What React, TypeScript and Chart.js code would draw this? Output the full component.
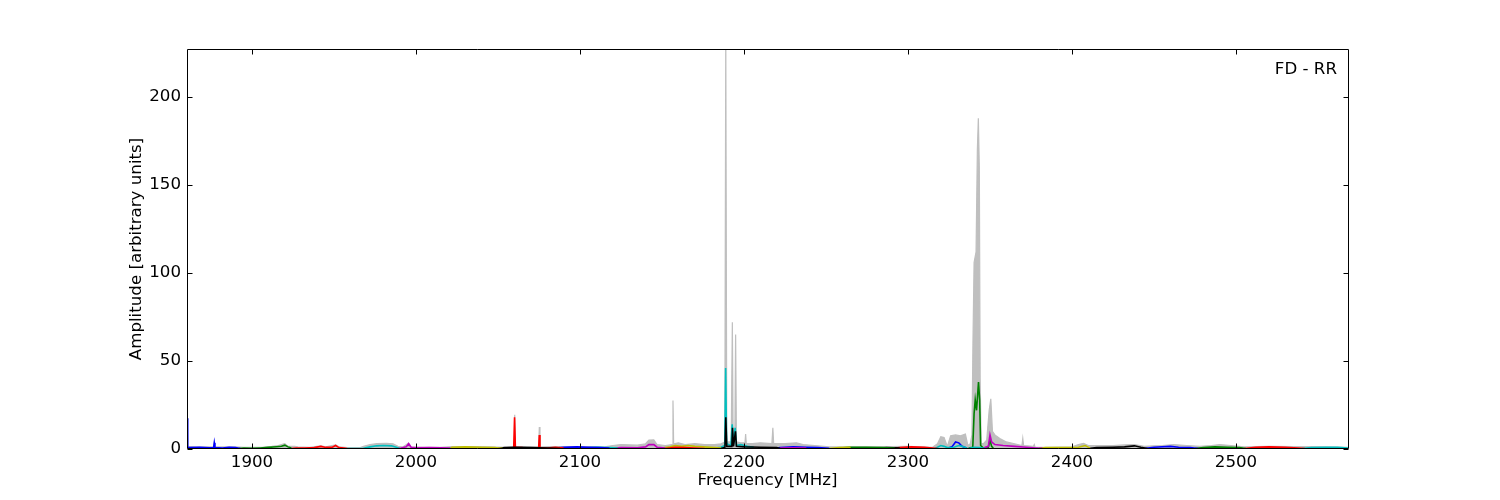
import React, { useEffect, useRef } from "react";
import { Chart, registerables } from "chart.js";

Chart.register(...registerables);

type Pt = [number, number];

const xTickValues = [1900, 2000, 2100, 2200, 2300, 2400, 2500];
const yTickValues = [0, 50, 100, 150, 200];
const xRange = [1860.37, 2568.3];
const yRange = [0, 227.3];
const cornerLabel = "FD - RR";
const xTitle = "Frequency [MHz]";
const yTitle = "Amplitude [arbitrary units]";

const grayEnvelope: Pt[] = [
  [1860.4, 18], [1861, 1.5], [1866, 1.2], [1872, 1.2], [1876.5, 1.2], [1877, 3.8], [1877.5, 1.2], [1884, 1.2], [1890, 1.2],
  [1895, 1], [1900, 1], [1906, 1], [1912, 1.5], [1916, 2], [1919, 2.8], [1920, 3], [1922, 1.5], [1926, 1.5], [1928, 1.2],
  [1935, 1], [1942, 1.8], [1945, 1.2], [1951, 2.3], [1953, 1.2], [1958, 0.8], [1966, 0.8], [1968, 1.5], [1972, 2.5],
  [1976, 3], [1982, 3.2], [1986, 3], [1989, 1.5], [1992, 1.2], [1995.5, 3.3], [1997, 1.2], [2005, 1], [2015, 1],
  [2022, 1.3], [2030, 1.4], [2045, 1.2], [2055, 1], [2059.8, 1.2], [2060.2, 19.5], [2060.6, 1.5], [2068, 1.2],
  [2074.8, 1.2], [2075.2, 12.5], [2075.6, 1.2], [2085, 1.3], [2100, 1.4], [2115, 1.2], [2120, 2], [2125, 2.5],
  [2135, 2.2], [2140, 3], [2142, 5], [2145, 5.2], [2147, 2.5], [2152, 2], [2156.3, 2.5], [2156.7, 27.5], [2157.1, 3],
  [2160, 3.5], [2164, 2.5], [2170, 3], [2176, 2.5], [2182, 2.5], [2186, 3], [2188.3, 4], [2188.9, 235], [2189.5, 4],
  [2192.2, 4], [2192.9, 72], [2193.4, 4], [2194.4, 4], [2194.9, 65], [2195.4, 4], [2198, 3.5], [2200.6, 3.5],
  [2201, 8.5], [2201.4, 3], [2205, 3], [2210, 3.5], [2217, 3], [2217.6, 12], [2218.1, 3], [2225, 3], [2232, 3.5],
  [2236, 2.5], [2245, 1.8], [2252, 1.2], [2265, 1.2], [2280, 1.2], [2300, 1.5], [2315, 1], [2318, 3], [2320, 7],
  [2322, 6.5], [2324, 1.5], [2326, 7.5], [2329, 8], [2332, 7.5], [2335, 8.5], [2336.5, 2], [2338, 3], [2339, 8],
  [2339.6, 60], [2340.3, 106], [2341.5, 112], [2342.3, 170], [2342.9, 188], [2343.5, 160], [2344, 40], [2344.6, 3],
  [2346, 3], [2348, 5], [2349.5, 22], [2350.5, 28.5], [2351.5, 10], [2353, 8], [2356, 6], [2360, 4], [2365, 3],
  [2369.5, 2], [2370, 6], [2370.5, 2], [2376.5, 1.5], [2377, 2.5], [2377.5, 1], [2385, 1], [2400, 1.2], [2404, 2.5],
  [2407, 3.2], [2410, 2], [2415, 2], [2425, 2], [2432, 2.3], [2438, 2.5], [2444, 1.5], [2450, 1.8], [2455, 2],
  [2462, 2.5], [2470, 2], [2478, 1.5], [2485, 2], [2490, 2.5], [2497, 2], [2505, 1.2], [2520, 1.5], [2535, 1.3],
  [2545, 1.3], [2555, 1.2], [2568.3, 1],
];

const blue1: Pt[] = [[1860.4, 17.5], [1860.8, 1], [1862, 0.8], [1868, 1], [1874, 0.7], [1876.6, 0.8], [1877, 3.5], [1877.4, 0.8], [1882, 0.6], [1886, 1], [1890, 0.8], [1893, 0.3]];
const green1: Pt[] = [[1892, 0.3], [1895, 0.5], [1900, 0.4], [1905, 0.6], [1910, 0.9], [1915, 1.3], [1918, 1.6], [1920, 2.2], [1922, 1.2], [1924, 0.5]];
const red1: Pt[] = [[1924, 0.3], [1927, 0.6], [1932, 0.5], [1938, 0.8], [1942, 1.5], [1945, 0.9], [1949, 1], [1951, 2], [1953, 0.8], [1956, 0.5], [1958, 0.2]];
const cyan1: Pt[] = [[1958, 0.2], [1963, 0.3], [1968, 0.4], [1972, 1.2], [1976, 1.8], [1980, 2], [1985, 1.8], [1988, 1], [1990, 0.3]];
const magenta1: Pt[] = [[1988, 0.3], [1991, 0.6], [1994, 1.2], [1995.5, 3], [1997, 1], [2000, 0.7], [2008, 0.8], [2015, 0.7], [2021, 0.5]];
const yellow1: Pt[] = [[2021, 0.5], [2022, 1], [2030, 1.2], [2040, 1], [2048, 0.8], [2053, 0.3]];
const black1: Pt[] = [[2050, 0.2], [2054, 0.8], [2060, 1], [2070, 0.8], [2080, 0.5], [2088, 0.3]];
const red2: Pt[] = [[2059.6, 1], [2060.1, 18], [2060.6, 1], [2065, 0.8], [2070, 0.7], [2074.8, 0.8], [2075.2, 8], [2075.6, 0.8], [2080, 0.6], [2085, 0.9], [2090, 0.6]];
const blue2: Pt[] = [[2085, 0.6], [2090, 1], [2098, 1.2], [2105, 1], [2112, 0.8], [2118, 0.5]];
const cyan2: Pt[] = [[2095, 0.3], [2100, 0.6], [2110, 1], [2118, 0.8], [2123, 0.5]];
const magenta2: Pt[] = [[2120, 0.4], [2125, 0.8], [2135, 0.7], [2140, 1.2], [2142, 2.5], [2145, 2.5], [2147, 1], [2152, 0.5]];
const yellow2: Pt[] = [[2150, 0.5], [2155, 1.2], [2158, 2], [2162, 1.5], [2166, 2], [2170, 1.5], [2175, 1.2], [2182, 0.8], [2186, 0.5]];
const red3: Pt[] = [[2152, 0.3], [2158, 1], [2164, 0.8], [2170, 0.6], [2176, 0.3]];
const cyan3: Pt[] = [[2182, 0.5], [2186, 1], [2188.3, 2], [2188.8, 46], [2189.4, 3], [2192, 2], [2192.8, 14], [2193.6, 3], [2194.6, 12], [2195.4, 2], [2198, 2.5], [2202, 1.5], [2206, 1]];
const black2: Pt[] = [[2186, 0.3], [2188.4, 1], [2188.9, 18], [2189.5, 1.5], [2192.6, 1.5], [2193, 12], [2193.6, 1.5], [2194.8, 10], [2195.4, 1.5], [2200, 1.2], [2210, 1], [2220, 0.8], [2222, 0.3]];
const blue3: Pt[] = [[2218, 0.3], [2222, 0.8], [2230, 1.2], [2238, 1], [2245, 0.8], [2252, 0.4]];
const magenta3: Pt[] = [[2222, 0.5], [2230, 0.7], [2238, 0.5]];
const yellow3: Pt[] = [[2252, 0.3], [2258, 0.8], [2265, 1]];
const green2: Pt[] = [[2258, 0.5], [2265, 0.9], [2275, 1], [2285, 0.8], [2292, 0.4]];
const black3: Pt[] = [[2280, 0.3], [2287, 0.8], [2295, 0.5]];
const red4: Pt[] = [[2290, 0.3], [2295, 0.8], [2302, 1.2], [2310, 0.9], [2318, 0.3]];
const cyan4: Pt[] = [[2316, 0.2], [2318, 1], [2320, 2], [2322, 1.5], [2324, 0.8], [2328, 1], [2331, 2], [2333, 1.5], [2336, 0.5]];
const blue4: Pt[] = [[2324, 0.3], [2327, 1.5], [2329, 4], [2331, 3.5], [2333, 1.5], [2336, 0.4]];
const cyan5: Pt[] = [[2337, 0.3], [2340, 1], [2344, 0.8], [2347, 0.2]];
const green3: Pt[] = [[2337, 0.5], [2339.5, 1], [2340.3, 20], [2341, 28], [2341.8, 22], [2343, 38], [2343.7, 28], [2344.3, 2], [2346, 0.5], [2349, 1], [2350, 5], [2351, 1.5], [2352, 0.5]];
const magenta4: Pt[] = [[2346, 0.5], [2349, 1.5], [2350, 8], [2351, 4], [2353, 2.5], [2358, 2], [2365, 1.5], [2372, 1], [2378, 0.6], [2382, 0.4]];
const yellow4: Pt[] = [[2380, 0.4], [2384, 0.8], [2395, 0.8], [2404, 1], [2408, 2], [2411, 0.5]];
const black4: Pt[] = [[2410, 0.3], [2415, 0.8], [2425, 1], [2432, 1.2], [2438, 1.8], [2442, 1], [2446, 0.3]];
const blue5: Pt[] = [[2444, 0.3], [2450, 1], [2460, 1.5], [2465, 1], [2472, 0.8], [2477, 0.3]];
const green4: Pt[] = [[2475, 0.3], [2480, 0.8], [2487, 1.2], [2495, 1], [2502, 0.8], [2506, 0.3]];
const red5: Pt[] = [[2505, 0.2], [2512, 1], [2520, 1.2], [2530, 1], [2538, 0.6], [2542, 0.2]];
const cyan6: Pt[] = [[2540, 0.2], [2546, 0.8], [2555, 1], [2562, 0.9], [2568.3, 0.6]];

const COLORS: Record<string, string> = {
  b: "#0000ff",
  g: "#008000",
  r: "#ff0000",
  c: "#00bfbf",
  m: "#bf00bf",
  y: "#bfbf00",
  k: "#000000",
};

const bandSeries: [Pt[], string][] = [
  [blue1, "b"], [green1, "g"], [red1, "r"], [cyan1, "c"], [magenta1, "m"], [yellow1, "y"], [black1, "k"],
  [red2, "r"], [blue2, "b"], [cyan2, "c"], [magenta2, "m"], [red3, "r"], [yellow2, "y"], [black2, "k"], [cyan3, "c"],
  [magenta3, "m"], [blue3, "b"], [yellow3, "y"], [green2, "g"], [black3, "k"], [red4, "r"], [cyan4, "c"], [blue4, "b"],
  [cyan5, "c"], [magenta4, "m"], [green3, "g"], [yellow4, "y"], [black4, "k"], [blue5, "b"], [green4, "g"],
  [red5, "r"], [cyan6, "c"],
];

const FONT = "DejaVu Sans";
const FS = 16.67;

const framePlugin = {
  id: "frame",
  afterDraw(chart: any) {
    const { ctx, chartArea } = chart;
    const { left, right, top, bottom } = chartArea;
    const xs = chart.scales.x;
    const ys = chart.scales.y;
    ctx.save();
    ctx.strokeStyle = "#000";
    ctx.lineWidth = 1;
    ctx.beginPath();
    const L = Math.round(left) + 0.5;
    const R = Math.round(right) + 0.5;
    const T = Math.round(top) + 0.5;
    const B = Math.round(bottom) - 0.5;
    ctx.rect(L, T, R - L, B - T);
    const tl = 5;
    for (const v of xTickValues) {
      const px = Math.round(xs.getPixelForValue(v)) + 0.5;
      ctx.moveTo(px, B);
      ctx.lineTo(px, B - tl);
      ctx.moveTo(px, T);
      ctx.lineTo(px, T + tl);
    }
    for (const v of yTickValues) {
      const py = Math.round(ys.getPixelForValue(v)) + 0.5;
      ctx.moveTo(L, py);
      ctx.lineTo(L + tl, py);
      ctx.moveTo(R, py);
      ctx.lineTo(R - tl, py);
    }
    ctx.stroke();
    ctx.fillStyle = "#000";
    ctx.font = `${FS}px "${FONT}"`;
    ctx.textAlign = "right";
    ctx.textBaseline = "middle";
    ctx.fillText(cornerLabel, right - 11, top + 21);
    ctx.restore();
  },
};

export default function App() {
  const ref = useRef<HTMLCanvasElement | null>(null);
  useEffect(() => {
    if (!ref.current) return;
    const datasets: any[] = bandSeries.map(([data, c], i) => ({
      data,
      borderColor: COLORS[c],
      borderWidth: 1.6,
      pointRadius: 0,
      fill: false,
      tension: 0,
      order: i,
    }));
    datasets.push({
      data: grayEnvelope,
      borderColor: "#bfbfbf",
      backgroundColor: "#bfbfbf",
      borderWidth: 1.2,
      pointRadius: 0,
      fill: "origin",
      tension: 0,
      order: 1000,
    });
    const chart = new Chart(ref.current, {
      type: "line",
      data: { datasets },
      plugins: [framePlugin],
      options: {
        animation: false,
        responsive: false,
        maintainAspectRatio: false,
        events: [],
        layout: { padding: { left: 0, right: 152, top: 49, bottom: 0 } },
        plugins: { legend: { display: false }, tooltip: { enabled: false } },
        scales: {
          x: {
            type: "linear",
            min: xRange[0],
            max: xRange[1],
            grid: { display: false, drawTicks: false },
            border: { display: false },
            afterBuildTicks: (s: any) => {
              s.ticks = xTickValues.map((v) => ({ value: v }));
            },
            afterFit: (s: any) => {
              s.height = 51;
            },
            ticks: {
              color: "#000",
              font: { family: FONT, size: FS },
              padding: 4,
              maxRotation: 0,
              autoSkip: false,
              callback: (v: any) => String(v),
            },
            title: {
              display: true,
              text: xTitle,
              color: "#000",
              font: { family: FONT, size: FS },
              padding: { top: 0, bottom: 9 },
            },
          },
          y: {
            type: "linear",
            min: yRange[0],
            max: yRange[1],
            grid: { display: false, drawTicks: false },
            border: { display: false },
            afterBuildTicks: (s: any) => {
              s.ticks = yTickValues.map((v) => ({ value: v }));
            },
            afterFit: (s: any) => {
              s.width = 187;
            },
            ticks: {
              color: "#000",
              font: { family: FONT, size: FS },
              padding: 6,
              autoSkip: false,
              callback: (v: any) => String(v),
            },
            title: {
              display: true,
              text: yTitle,
              color: "#000",
              font: { family: FONT, size: FS },
              padding: { top: 127, bottom: 0 },
            },
          },
        },
      },
    });
    return () => chart.destroy();
  }, []);
  return (
    <div style={{ position: "absolute", left: 0, top: 0, width: 1500, height: 500, background: "#fff" }}>
      <canvas ref={ref} width={1500} height={500} style={{ width: 1500, height: 500, display: "block" }} />
    </div>
  );
}
